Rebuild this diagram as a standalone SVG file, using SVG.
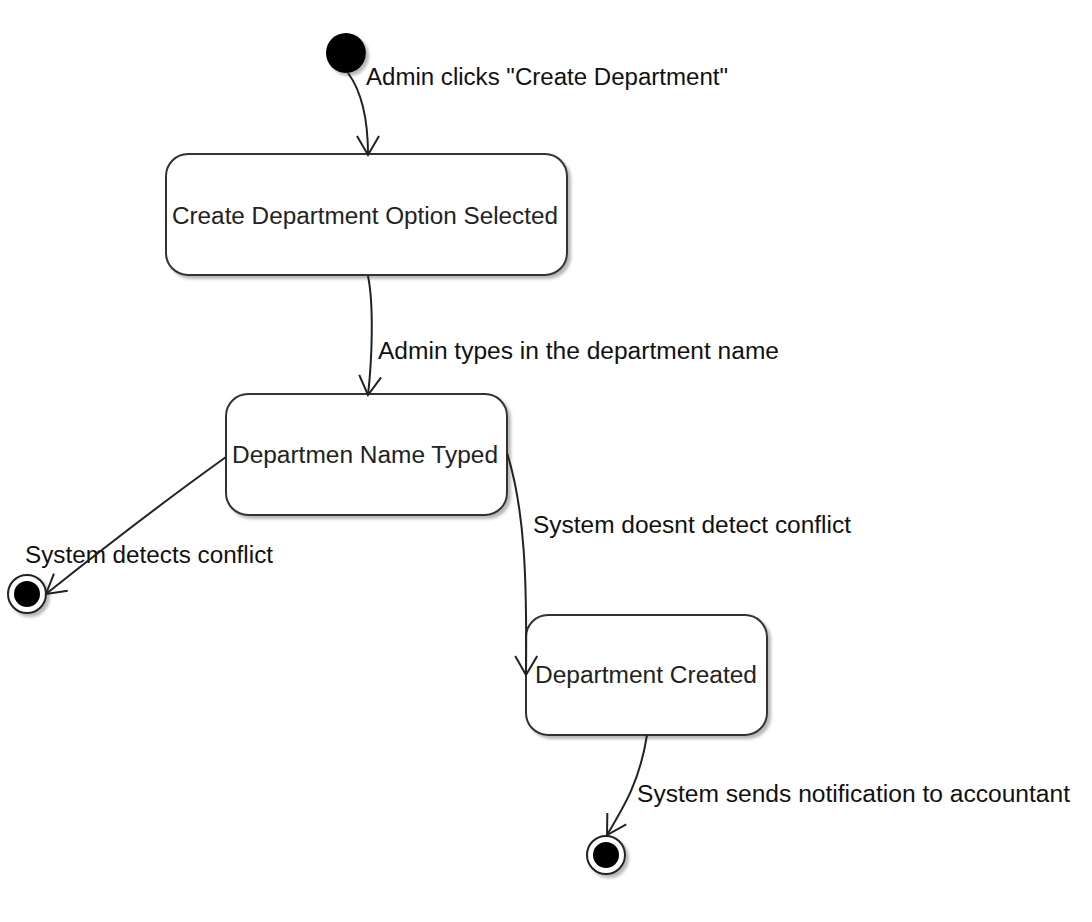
<svg xmlns="http://www.w3.org/2000/svg" width="1092" height="922" viewBox="0 0 1092 922">
<style>
.state{fill:#fff;stroke:#333;stroke-width:2}
.ntext{font-family:"Liberation Sans",Arial,sans-serif;font-size:23px;fill:#222;text-anchor:start}
.ltext{font-family:"Liberation Sans",Arial,sans-serif;font-size:23px;fill:#111}
.edge{fill:none;stroke:#222;stroke-width:2;marker-end:url(#arr)}
</style>
<defs>
<filter id="sh" x="-20%" y="-20%" width="150%" height="150%">
<feDropShadow dx="3" dy="3" stdDeviation="1.5" flood-color="#888" flood-opacity="0.6"/>
</filter>
<marker id="arr" markerUnits="userSpaceOnUse" viewBox="0 0 22 24" refX="20" refY="12" markerWidth="22" markerHeight="24" orient="auto">
<path d="M1,1 L20,12 L1,23" fill="none" stroke="#222" stroke-width="2"/>
</marker>
</defs>
<rect width="1092" height="922" fill="#fff"/>
<g id="start">
<circle cx="346" cy="53" r="20" fill="#000" filter="url(#sh)"/>
</g>
<g id="s1">
<rect class="state" x="166" y="154" width="401" height="121" rx="22" filter="url(#sh)"/>
<text class="ntext" x="172" y="224" textLength="386" lengthAdjust="spacingAndGlyphs">Create Department Option Selected</text>
</g>
<g id="s2">
<rect class="state" x="226" y="394" width="281" height="121" rx="22" filter="url(#sh)"/>
<text class="ntext" x="232" y="463" textLength="266" lengthAdjust="spacingAndGlyphs">Departmen Name Typed</text>
</g>
<g id="s3">
<rect class="state" x="526" y="615" width="241" height="120" rx="22" filter="url(#sh)"/>
<text class="ntext" x="535" y="683" textLength="222" lengthAdjust="spacingAndGlyphs">Department Created</text>
</g>
<g id="end1">
<circle cx="27" cy="594" r="19" fill="#fff" stroke="#222" stroke-width="2" filter="url(#sh)"/>
<circle cx="27" cy="594" r="13" fill="#000"/>
</g>
<g id="end2">
<circle cx="606" cy="855" r="19" fill="#fff" stroke="#222" stroke-width="2" filter="url(#sh)"/>
<circle cx="606" cy="855" r="13" fill="#000"/>
</g>
<g id="connectors">
<text class="ltext" x="366" y="85" textLength="362" lengthAdjust="spacingAndGlyphs">Admin clicks "Create Department"</text>
<text class="ltext" x="378" y="359" textLength="401" lengthAdjust="spacingAndGlyphs">Admin types in the department name</text>
<text class="ltext" x="25" y="563" textLength="248" lengthAdjust="spacingAndGlyphs">System detects conflict</text>
<text class="ltext" x="533" y="533" textLength="318" lengthAdjust="spacingAndGlyphs">System doesnt detect conflict</text>
<text class="ltext" x="637" y="802" textLength="433" lengthAdjust="spacingAndGlyphs">System sends notification to accountant</text>
<path class="edge" d="M348,73 Q368,100 368,155"/>
<path class="edge" d="M368,276 C374,305 372,360 368,395"/>
<path class="edge" d="M226,457 Q145,515 46,594"/>
<path class="edge" d="M507,453 C525,510 527,580 526,675"/>
<path class="edge" d="M647,735 C640,780 625,805 607,835"/>
</g>
</svg>
